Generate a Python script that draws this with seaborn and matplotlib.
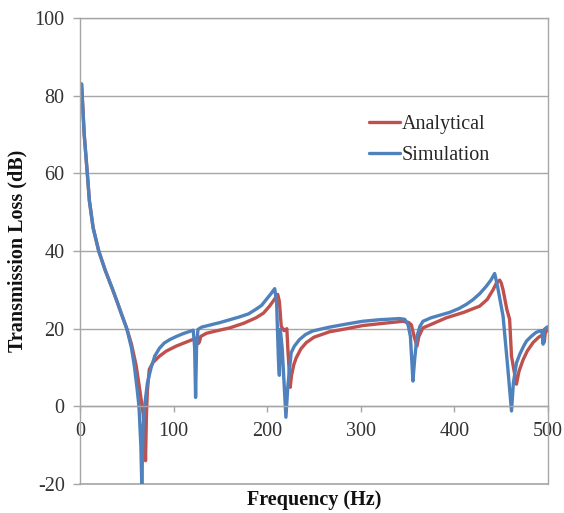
import numpy as np
import pandas as pd
import matplotlib
matplotlib.use("Agg")
import matplotlib.pyplot as plt
import seaborn as sns

# ---- data ----
freq_analytical = [1.7, 4.5, 7.8, 10, 14, 20, 27, 35, 40, 45, 50, 55, 60, 64, 67.5, 69, 70,
                   71, 72, 74, 78, 84.8, 92, 102.7, 112, 120.4, 125, 126.5, 127.6, 129, 135, 145,
                   160, 175, 188, 196, 202.5, 207, 211.3, 213, 215, 218, 220, 221, 222, 224.6,
                   226, 228.5, 231, 236, 241.7, 250, 266.6, 285, 302, 325, 345, 351, 354, 357,
                   360, 362, 366.4, 378, 391.4, 410, 427, 435, 441.3, 445, 448.4, 450, 452, 456,
                   459, 461, 466.3, 469, 473.4, 478, 484, 490, 494.8, 496, 497, 498.4, 500]
tl_analytical = [83, 70, 60, 53, 46, 40, 35, 30, 26.7, 23.3, 20, 16, 10.5, 4, -2, -8, -14,
                 -2, 4, 9.5, 11.3, 12.9, 14.2, 15.5, 16.4, 17.2, 17.6, 16.2, 16.6, 18, 18.8, 19.4,
                 20.2, 21.4, 22.8, 24, 25.8, 27.3, 28.8, 27, 20.6, 19.5, 19.8, 20, 15, 4.9,
                 8, 10.8, 12.5, 14.8, 16.4, 17.8, 19.2, 20, 20.8, 21.4, 21.9, 21.6, 21, 18,
                 15.5, 18, 20.2, 21.4, 22.8, 24.2, 25.8, 27.5, 30, 31.8, 32.5, 31.8, 30, 25,
                 22.4, 12.9, 5.7, 9, 12, 14.3, 16.4, 17.8, 18.5, 16.5, 18.8, 19.4, 19.8]

freq_simulation = [1.7, 4.5, 7.8, 10, 14, 20, 27, 35, 40, 45, 50, 55, 58, 61, 63, 65, 66, 67.5,
                   69, 72, 76, 80, 85, 90, 96, 103, 110, 116, 121, 122.5, 123.5, 124.5, 126, 130,
                   140, 150, 160, 170, 180, 188, 194, 199, 204, 208, 210, 212, 213, 214, 216, 220,
                   222, 224, 225.6, 229, 234.5, 241, 248.5, 266.6, 285, 302, 320, 341.5, 347,
                   350.5, 353, 355.7, 357.5, 360, 363, 366.4, 375, 385, 395, 405, 413, 420, 427,
                   434, 439, 443, 446, 452, 457, 461, 463, 466.3, 470, 474, 477, 482, 487, 491,
                   493.5, 494.8, 496, 498.4, 500]
tl_simulation = [83, 70, 60, 53, 46, 40, 35, 30, 26.7, 23.3, 20, 15, 10.5, 4.5, 0, -10, -20, -5,
                 0, 6, 10, 13, 15, 16.3, 17.2, 18, 18.7, 19.2, 19.6, 15, 2.3, 15, 19.8, 20.4,
                 21, 21.6, 22.3, 23, 23.8, 25, 26, 27.5, 29, 30.3, 27, 12, 8, 19.8, 15, -2.8,
                 5, 10, 13.8, 15.5, 17.2, 18.5, 19.4, 20.4, 21.2, 21.9, 22.3, 22.6, 22.4,
                 21, 18, 6.5, 12, 18, 20.5, 21.9, 22.8, 23.5, 24.2, 25.2, 26.3, 27.5, 29,
                 30.9, 32.5, 34.2, 31, 23.2, 10, -1.2, 6, 11.2, 13.5, 15.5, 16.8, 18, 19, 19.4,
                 19.5, 16, 19.8, 20.3, 20.5]

series_names = ["Analytical", "Simulation"]
x_ticks = [0, 100, 200, 300, 400, 500]
y_ticks = [-20, 0, 20, 40, 60, 80, 100]

df = pd.concat([
    pd.DataFrame({"Frequency": freq_analytical, "TL": tl_analytical, "Series": series_names[0]}),
    pd.DataFrame({"Frequency": freq_simulation, "TL": tl_simulation, "Series": series_names[1]}),
], ignore_index=True)

sns.set_theme(style="white")
plt.rcParams["font.family"] = ["Liberation Serif", "DejaVu Serif"]

fig = plt.figure(figsize=(5.64, 5.13), dpi=100)
ax = fig.add_axes([80 / 564, 1 - 484 / 513, 468 / 564, 466 / 513])

palette = {"Analytical": "#C0504D", "Simulation": "#4F81BD"}
sns.lineplot(data=df, x="Frequency", y="TL", hue="Series", palette=palette,
             sort=False, estimator=None, linewidth=2.4, ax=ax)
for ln in ax.get_lines():
    ln.set_solid_joinstyle("round")
    ln.set_solid_capstyle("round")

grid_c = "#A6A6A6"
ax.set_xlim(0, 500)
ax.set_ylim(-20, 100)
ax.set_xticks(x_ticks)
ax.set_yticks(y_ticks)
ax.set_yticklabels([str(v) for v in y_ticks])
ax.set_xticklabels([str(v) for v in x_ticks])
ax.yaxis.grid(True, color=grid_c, linewidth=1.0)
ax.xaxis.grid(False)
ax.set_axisbelow(True)
ax.axhline(-20, color=grid_c, lw=1.2, clip_on=False, zorder=0)

for s in ["left", "right", "top"]:
    ax.spines[s].set_visible(True)
    ax.spines[s].set_color(grid_c)
    ax.spines[s].set_linewidth(1.0)
ax.spines["bottom"].set_position(("data", 0))
ax.spines["bottom"].set_color(grid_c)
ax.spines["bottom"].set_linewidth(1.0)

ax.tick_params(axis="y", which="major", direction="out", length=5, width=1,
               color=grid_c, labelsize=14.5, labelcolor="#333333", pad=6, left=True)
ax.tick_params(axis="x", which="major", direction="out", length=4, width=1,
               color=grid_c, labelsize=14.5, labelcolor="#333333", pad=7, bottom=True)

ax.set_xlabel("Frequency (Hz)", fontsize=14.5, fontweight="bold", color="#111111")
ax.set_ylabel("Transmission Loss (dB)", fontsize=14.5, fontweight="bold", color="#111111")
ax.xaxis.set_label_coords(0.5, -0.012)
ax.yaxis.set_label_coords(-0.112, 0.5)

leg = ax.legend(loc="upper left", bbox_to_anchor=(0.6, 0.81), frameon=False,
                fontsize=14.5, handlelength=1.55, handletextpad=0.1, labelspacing=0.62,
                borderaxespad=0)
for line in leg.get_lines():
    line.set_linewidth(2.4)

fig.savefig("out.png", dpi=100)
